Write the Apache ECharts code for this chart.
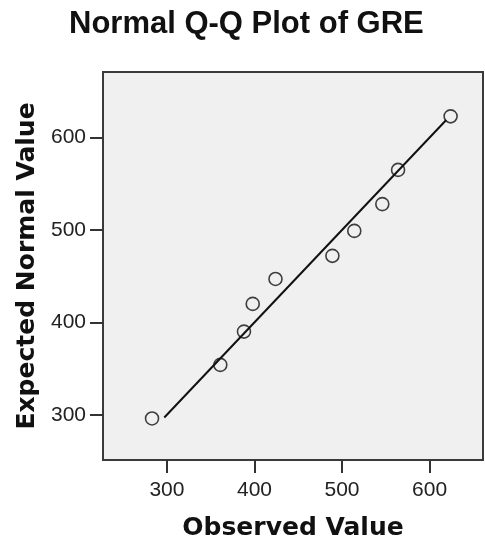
<!DOCTYPE html>
<html>
<head>
<meta charset="utf-8">
<script src="https://cdn.jsdelivr.net/npm/echarts@6/dist/echarts.min.js"></script>
<style>html,body{margin:0;padding:0;background:#fff}#c{width:485px;height:540px}</style>
</head>
<body>
<div id="c"></div>
<script>
var observed = [283, 361, 388, 398, 424, 489, 514, 546, 564, 624];
var expected = [296, 354, 390, 420, 447, 472, 499, 528, 565, 623];
var lineX = [297, 619];
var lineY = [297, 619];
var xTicks = [300, 400, 500, 600];
var yTicks = [300, 400, 500, 600];

var chart = echarts.init(document.getElementById('c'));
var pts = observed.map(function (v, i) { return [v, expected[i]]; });
var ln = lineX.map(function (v, i) { return [v, lineY[i]]; });
var axisCommon = {
  type: 'value',
  nameLocation: 'middle',
  nameTextStyle: { fontFamily: 'DejaVu Sans', fontWeight: 'bold', fontSize: 25, color: '#111' },
  axisLine: { show: true, lineStyle: { color: '#3a3a3a', width: 2 } },
  axisTick: { show: true, length: 13, lineStyle: { color: '#333', width: 2 } },
  axisLabel: { fontFamily: 'Liberation Sans', fontSize: 21, color: '#222', margin: 17 },
  splitLine: { show: false }
};
chart.setOption({
  animation: false,
  title: {
    text: 'Normal Q-Q Plot of GRE',
    left: 69, top: 9, padding: 0,
    textStyle: { fontFamily: 'Liberation Sans', fontWeight: 'bold', fontSize: 31, color: '#111' }
  },
  grid: {
    left: 103, right: 2, top: 72, bottom: 80,
    containLabel: false, outerBoundsMode: 'none',
    show: true, backgroundColor: '#f0f0f0', borderColor: '#3a3a3a', borderWidth: 2
  },
  xAxis: Object.assign({}, axisCommon, {
    name: 'Observed Value', nameGap: 56, min: 227, max: 661,
    axisTick: Object.assign({}, axisCommon.axisTick, { customValues: xTicks }),
    axisLabel: Object.assign({}, axisCommon.axisLabel, { customValues: xTicks, margin: 20 })
  }),
  yAxis: Object.assign({}, axisCommon, {
    name: 'Expected Normal Value', nameGap: 53, min: 251, max: 671,
    axisTick: Object.assign({}, axisCommon.axisTick, { customValues: yTicks }),
    axisLabel: Object.assign({}, axisCommon.axisLabel, { customValues: yTicks })
  }),
  series: [
    {
      type: 'line', data: ln, symbol: 'none', silent: true,
      lineStyle: { color: '#111', width: 2 }, z: 2
    },
    {
      type: 'scatter', data: pts, symbol: 'circle', symbolSize: 13,
      itemStyle: { color: 'rgba(0,0,0,0)', borderColor: '#111', borderWidth: 1.6 }, z: 3
    }
  ]
});
</script>
</body>
</html>
